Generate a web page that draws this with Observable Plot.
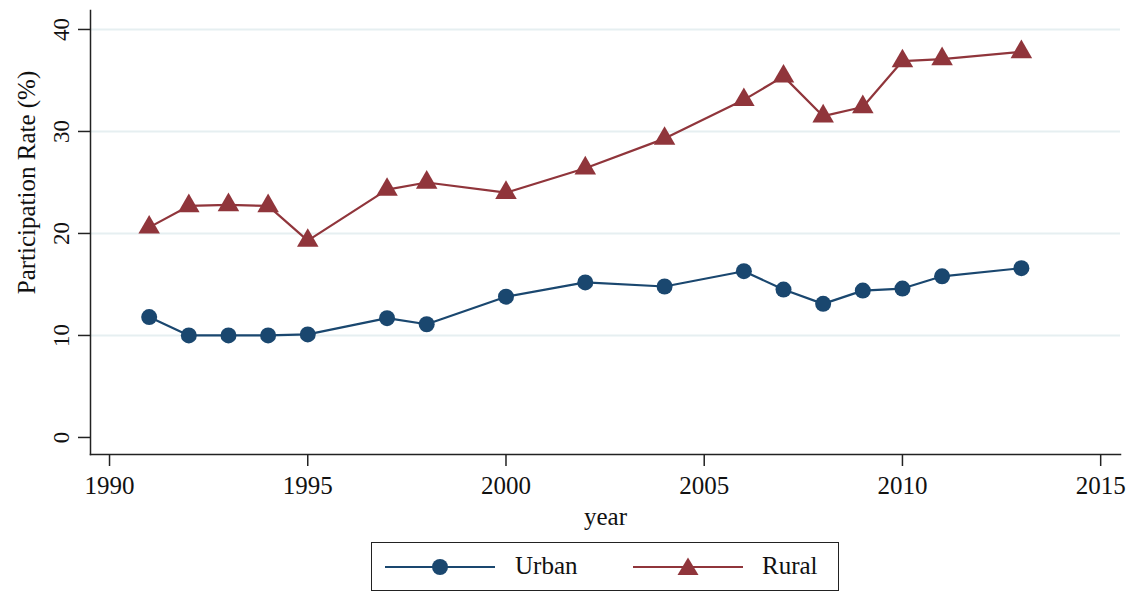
<!DOCTYPE html>
<html><head><meta charset="utf-8">
<script src="https://cdn.jsdelivr.net/npm/d3@7"></script>
<script src="https://cdn.jsdelivr.net/npm/@observablehq/plot@0.6"></script>
<style>
body{margin:0;background:#fff;font-family:"Liberation Serif","DejaVu Serif",serif;color:#111}
#wrap{position:relative;width:1132px;height:592px;overflow:hidden;background:#fff}
#chart{position:absolute;left:0;top:0}
#legend{position:absolute;left:371px;top:542px;width:466px;height:47px;border:1.5px solid #222;background:#fff}
.sw{position:absolute;top:14px}
.lt{position:absolute;top:8px;font-size:25px;line-height:30px}
</style></head><body>
<div id="wrap"><div id="chart"></div><div id="legend"></div></div>
<script>
const years = [1991,1992,1993,1994,1995,1997,1998,2000,2002,2004,2006,2007,2008,2009,2010,2011,2013];
const urban = [11.8,10.0,10.0,10.0,10.1,11.7,11.1,13.8,15.2,14.8,16.3,14.5,13.1,14.4,14.6,15.8,16.6];
const rural = [20.6,22.7,22.8,22.7,19.3,24.3,25.0,24.0,26.4,29.3,33.1,35.4,31.5,32.4,36.9,37.1,37.8];
const seriesNames = ["Urban","Rural"];
const seriesColors = ["#1a476f","#90353b"];
const seriesSymbols = ["circle","triangle"];
const xTicks = [1990,1995,2000,2005,2010,2015];
const yTicks = [0,10,20,30,40];
const gridValues = [10,20,30,40];
const xTitle = "year";
const yTitle = "Participation Rate (%)";

const data = years.flatMap((yr,i)=>[
  {year:yr, value:urban[i], series:"Urban"},
  {year:yr, value:rural[i], series:"Rural"}
]);

const font = '"Liberation Serif","DejaVu Serif",serif';
const chart = Plot.plot({
  width:1132, height:540,
  marginLeft:90, marginRight:12, marginTop:10, marginBottom:86,
  style:{fontFamily:font, color:"#111", background:"#fff"},
  x:{domain:[1989.52,2015.5], label:null},
  y:{domain:[-1.67,41.86], label:null},
  color:{domain:seriesNames, range:seriesColors},
  symbol:{domain:seriesNames, range:seriesSymbols},
  marks:[
    Plot.ruleY(gridValues, {stroke:"#e6eff1", strokeWidth:2}),
    Plot.frame({anchor:"left", stroke:"#222", strokeWidth:1.5}),
    Plot.frame({anchor:"bottom", stroke:"#222", strokeWidth:1.5}),
    Plot.axisY(yTicks, {tickSize:12, tickRotate:-90, tickPadding:10, fontSize:23, label:null, stroke:"#222", strokeWidth:1.5, tickFormat:d=>String(d)}),
    Plot.axisX(xTicks, {tickSize:12, tickPadding:10, fontSize:25, label:null, stroke:"#222", strokeWidth:1.5, tickFormat:d=>String(d)}),
    Plot.line(data, {x:"year", y:"value", z:"series", stroke:"series", strokeWidth:2.2}),
    Plot.dot(data, {x:"year", y:"value", fill:"series", symbol:"series", r:8, stroke:"none"}),
    Plot.text([xTitle], {text:d=>d, frameAnchor:"bottom", dy:62, fontSize:25, lineAnchor:"middle", textAnchor:"middle"}),
    Plot.text([yTitle], {text:d=>d, frameAnchor:"left", dx:-64, dy:-50, rotate:-90, fontSize:25, lineAnchor:"middle", textAnchor:"middle"})
  ]
});
document.getElementById("chart").appendChild(chart);

// legend
const leg = document.getElementById("legend");
const items = [
  {name:seriesNames[0], color:seriesColors[0], sym:seriesSymbols[0], sx:13, tx:143},
  {name:seriesNames[1], color:seriesColors[1], sym:seriesSymbols[1], sx:261, tx:390}
];
for (const it of items) {
  const shape = it.sym === "circle"
    ? `<circle cx="55" cy="10" r="8" fill="${it.color}"/>`
    : `<polygon points="55,0.5 65.5,18 44.5,18" fill="${it.color}"/>`;
  const sw = document.createElement("div");
  sw.className = "sw"; sw.style.left = it.sx + "px";
  sw.innerHTML = `<svg width="110" height="20"><line x1="0" x2="110" y1="10" y2="10" stroke="${it.color}" stroke-width="2.2"/>${shape}</svg>`;
  leg.appendChild(sw);
  const t = document.createElement("div");
  t.className = "lt"; t.style.left = it.tx + "px"; t.textContent = it.name;
  leg.appendChild(t);
}
</script>
</body></html>
